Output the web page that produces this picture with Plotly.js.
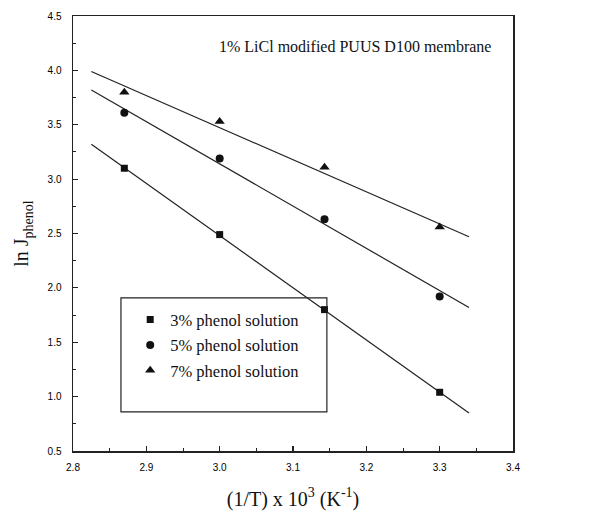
<!DOCTYPE html>
<html>
<head>
<meta charset="utf-8">
<script src="https://cdn.plot.ly/plotly-3.0.1.min.js"></script>
<style>html,body{margin:0;padding:0;background:#fff;}#chart{width:613px;height:519px;}
.legendtext{font-family:'Liberation Serif','Times New Roman',serif !important;}</style>
</head>
<body>
<div id="chart"></div>
<script>
// Data
const invT = [2.87, 3.0, 3.143, 3.30];
const phenol3 = [3.10, 2.49, 1.80, 1.04];
const phenol5 = [3.61, 3.19, 2.63, 1.92];
const phenol7 = [3.80, 3.53, 3.11, 2.56];
// Fitted line end points
const fitX = [2.825, 3.34];
const fit3 = [3.32, 0.85];
const fit5 = [3.82, 1.82];
const fit7 = [3.99, 2.47];
const seriesNames = ['3% phenol solution', '5% phenol solution', '7% phenol solution'];

const serif = "'Liberation Serif', 'Times New Roman', serif";
const lineStyle = {color: '#222', width: 1.2};

const traces = [
  {x: fitX, y: fit3, mode: 'lines', line: lineStyle, showlegend: false, hoverinfo: 'skip'},
  {x: fitX, y: fit5, mode: 'lines', line: lineStyle, showlegend: false, hoverinfo: 'skip'},
  {x: fitX, y: fit7, mode: 'lines', line: lineStyle, showlegend: false, hoverinfo: 'skip'},
  {x: invT, y: phenol3, mode: 'markers', name: seriesNames[0], legendgroup: 'a',
   marker: {symbol: 'square', size: 7, color: '#111'}},
  {x: invT, y: phenol5, mode: 'markers', name: seriesNames[1], legendgroup: 'b',
   marker: {symbol: 'circle', size: 8, color: '#111'}},
  {x: invT, y: phenol7, mode: 'markers', name: seriesNames[2], legendgroup: 'c',
   marker: {symbol: 'triangle-up', size: 9, color: '#111'}}
];

const axisCommon = {
  showline: true, linecolor: '#222', linewidth: 1.5, mirror: true,
  ticks: 'inside', ticklen: 5, tickwidth: 1.2, tickcolor: '#222',
  showgrid: false, zeroline: false,
  tickfont: {family: 'Liberation Sans', size: 10, color: '#000'}
};

const layout = {
  width: 613, height: 519,
  margin: {l: 73, r: 100, t: 16, b: 68},
  paper_bgcolor: '#fff', plot_bgcolor: '#fff',
  showlegend: true,
  xaxis: Object.assign({}, axisCommon, {
    range: [2.8, 3.4], dtick: 0.1, tickformat: '.1f', ticklabelstandoff: 6,
    minor: {dtick: 0.05, ticks: 'inside', ticklen: 3, tickwidth: 1, tickcolor: '#222'},
    title: {text: '(1/T) x 10<sup>3</sup> (K<sup>-1</sup>)', font: {family: serif, size: 20, color: '#111'}, standoff: 20}
  }),
  yaxis: Object.assign({}, axisCommon, {
    range: [0.5, 4.5], dtick: 0.5, tickformat: '.1f', ticklabelstandoff: 8,
    minor: {dtick: 0.25, ticks: 'inside', ticklen: 3, tickwidth: 1, tickcolor: '#222'},
    title: {text: 'ln J<sub>phenol</sub>', font: {family: serif, size: 20, color: '#111'}, standoff: 13}
  }),
  legend: {
    x: 0.13, y: 0.342, xanchor: 'left', yanchor: 'top',
    bgcolor: 'rgba(0,0,0,0)', borderwidth: 0,
    tracegroupgap: 1,
    font: {family: serif, size: 16.5, color: '#111'}
  },
  shapes: [{
    type: 'rect', xref: 'paper', yref: 'paper',
    x0: 0.109, x1: 0.577, y0: 0.090, y1: 0.352,
    line: {color: '#222', width: 1.2}
  }],
  annotations: [{
    text: '1% LiCl modified PUUS D100 membrane',
    xref: 'paper', yref: 'paper', x: 0.955, y: 0.93,
    xanchor: 'right', yanchor: 'middle', showarrow: false,
    font: {family: serif, size: 16, color: '#111'}
  }]
};

Plotly.newPlot('chart', traces, layout, {displayModeBar: false, staticPlot: true});
</script>
</body>
</html>
